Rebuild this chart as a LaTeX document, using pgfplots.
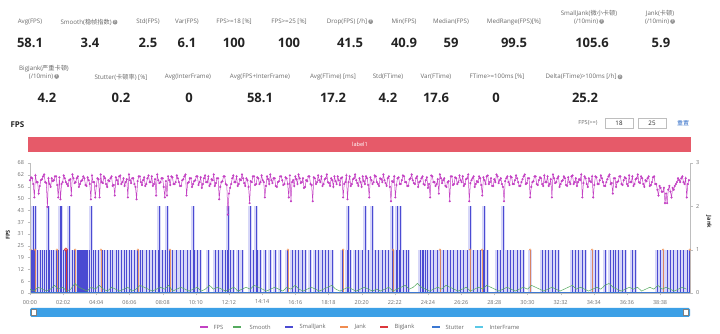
\documentclass[border=0pt]{standalone}
\usepackage{pgfplots}
\pgfplotsset{compat=1.18}
\usepackage{pgfplotstable}
\usepackage{fontspec}
\setmainfont{Open Sans}
\newfontfamily\cjk{Noto Sans CJK SC}
\definecolor{lgray}{RGB}{105,105,105}
\definecolor{vdark}{RGB}{35,35,35}
\definecolor{qgray}{RGB}{150,150,150}
\definecolor{axgray}{RGB}{190,190,190}
\definecolor{tkgray}{RGB}{110,110,110}
\definecolor{fpsc}{RGB}{195,65,195}
\definecolor{smoothc}{RGB}{85,170,95}
\definecolor{sjc}{RGB}{75,75,210}
\definecolor{sjl}{RGB}{140,140,235}
\definecolor{jankc}{RGB}{240,140,80}
\definecolor{bjc}{RGB}{220,55,60}
\definecolor{stutc}{RGB}{60,120,210}
\definecolor{ifc}{RGB}{90,200,230}
\definecolor{barred}{RGB}{230,90,105}
\definecolor{slider}{RGB}{60,160,230}
\definecolor{linkblue}{RGB}{50,110,200}
\newcommand{\qm}{\,\tikz[baseline=-0.6ex]\node[circle,fill=qgray,inner sep=0pt,minimum size=4.8pt,text=white,font=\fontsize{3.6}{4}\selectfont\bfseries]{?};}
\newcommand{\lab}[3]{\node[font=\fontsize{6.2}{7.6}\selectfont,text=lgray,align=center] at (#1,#2) {#3};}
\newcommand{\val}[3]{\node[font=\fontsize{13}{14}\selectfont\bfseries,text=vdark] at (#1,#2) {#3};}
\pgfplotsset{common/.style={scale only axis,width=660pt,height=130pt,xmin=0,xmax=2428,
  axis line style={draw=axgray},tick style={draw=axgray},
  major tick length=2.5pt,tick align=outside,
  ticklabel style={font=\fontsize{5.5}{6}\selectfont,text=tkgray},
  /pgf/number format/assume math mode=true}}
\pgfplotstableread[row sep=\\]{
t v\\ 4 1\\ 7 1\\ 11 2\\ 15 1\\ 18 2\\ 26 1\\ 37 1\\ 44 1\\ 52 1\\ 59 1\\ 66 2\\ 70 1\\ 77 1\\ 85 1\\ 96 1\\ 103 1\\ 110 2\\ 114 2\\ 121 1\\ 129 1\\ 136 1\\ 143 2\\ 155 1\\ 162 1\\ 173 1\\ 177 1\\ 180 1\\ 184 1\\ 188 1\\ 191 1\\ 195 1\\ 199 1\\ 202 1\\ 206 1\\ 210 1\\ 217 1\\ 224 2\\ 232 1\\ 239 1\\ 250 1\\
265 1\\ 272 1\\ 283 1\\ 294 1\\ 302 1\\ 316 1\\ 324 1\\ 335 1\\ 346 1\\ 353 1\\ 364 1\\ 372 1\\ 383 1\\ 394 1\\ 405 1\\ 412 1\\ 427 1\\ 438 1\\ 449 1\\ 460 1\\ 471 1\\ 475 2\\ 486 1\\ 497 1\\ 504 2\\ 511 1\\ 522 1\\ 537 1\\ 552 1\\ 563 1\\ 578 1\\ 589 1\\ 600 2\\ 603 1\\ 614 1\\
625 1\\ 655 1\\ 681 1\\ 692 1\\ 706 1\\ 717 1\\ 725 1\\ 728 2\\ 736 1\\ 747 1\\ 765 1\\ 780 1\\ 809 2\\ 820 1\\ 831 2\\ 835 1\\ 846 1\\ 865 1\\ 883 1\\ 901 1\\ 920 1\\ 945 1\\ 964 1\\ 975 1\\ 986 1\\ 1001 1\\ 1012 1\\ 1030 1\\ 1049 1\\ 1060 1\\ 1074 1\\ 1085 1\\ 1096 1\\ 1111 1\\ 1148 1\\ 1166 1\\ 1170 2\\ 1177 1\\ 1196 1\\ 1207 1\\
1221 1\\ 1232 2\\ 1244 1\\ 1258 2\\ 1269 1\\ 1280 1\\ 1295 1\\ 1306 1\\ 1317 1\\ 1332 2\\ 1335 1\\ 1347 1\\ 1350 2\\ 1358 1\\ 1361 2\\ 1372 1\\ 1383 1\\ 1391 1\\ 1435 1\\ 1442 1\\ 1446 1\\ 1453 1\\ 1461 1\\ 1472 1\\ 1483 1\\ 1497 1\\ 1508 1\\ 1519 1\\ 1534 1\\ 1545 1\\ 1556 1\\ 1571 1\\ 1582 1\\ 1593 1\\ 1608 1\\ 1619 2\\ 1630 1\\ 1644 1\\ 1656 1\\ 1667 1\\ 1670 2\\ 1681 1\\ 1718 1\\ 1729 1\\ 1740 2\\ 1755 1\\ 1766 1\\ 1777 1\\ 1792 1\\ 1803 1\\ 1814 1\\
1840 1\\ 1884 1\\ 1895 1\\ 1906 1\\ 1920 1\\ 1931 1\\ 1943 1\\ 1994 1\\ 2005 1\\ 2016 1\\ 2031 1\\ 2042 1\\ 2068 1\\ 2079 1\\ 2090 1\\ 2115 1\\ 2134 1\\ 2145 1\\ 2152 1\\ 2163 1\\ 2178 1\\ 2189 1\\ 2215 1\\ 2226 1\\ 2307 1\\ 2318 1\\ 2329 1\\ 2344 1\\ 2355 1\\ 2366 1\\ 2380 1\\ 2391 1\\ 2402 1\\ 2417 1\\ 2427 1\\
}\sjdata
\pgfplotstableread[row sep=\\]{
v\\
59\\60.5\\60\\57\\50\\61.5\\58\\58\\52\\56\\59\\59.5\\61\\62\\58\\57.5\\45\\60\\57\\55.5\\60\\58.5\\59\\61\\61\\56.5\\50\\60.5\\49\\57\\58\\61.5\\60\\58\\57\\56\\59\\59.5\\51\\62\\
60\\57.5\\58\\60\\61\\55.5\\57\\58.5\\59\\61\\60\\56.5\\56\\60.5\\59\\57\\49\\61.5\\58\\58\\50\\56\\60\\59.5\\50\\62\\58\\57.5\\61\\60\\57\\55.5\\59\\58.5\\60\\61\\56\\56.5\\51\\60.5\\
59\\57\\61\\61.5\\57\\58\\60\\56\\58\\59.5\\50\\62\\59\\57.5\\60\\60\\57\\55.5\\49\\58.5\\61\\61\\58\\56.5\\59\\60.5\\56\\57\\60\\61.5\\58\\58\\61\\56\\57\\59.5\\51\\62\\59\\57.5\\
58\\60\\60\\55.5\\50\\58.5\\51\\61\\59\\56.5\\61\\60.5\\57\\57\\58\\61.5\\60\\58\\56\\56\\59\\59.5\\61\\62\\51\\57.5\\58\\60\\60\\55.5\\57\\58.5\\59\\61\\61\\56.5\\58\\60.5\\55\\57\\
60\\61.5\\58\\58\\61\\56\\57\\59.5\\59\\62\\56\\57.5\\60\\60\\49\\55.5\\58\\58.5\\61\\61\\57\\56.5\\41\\52\\55\\57\\60\\61.5\\58\\58\\61\\56\\57\\59.5\\59\\62\\60\\57.5\\56\\60\\
59\\55.5\\47\\58.5\\58\\61\\61\\56.5\\57\\60.5\\60\\57\\58\\61.5\\59\\58\\50\\56\\61\\59.5\\57\\62\\59\\57.5\\60\\60\\56\\55.5\\58\\58.5\\61\\61\\59\\56.5\\57\\60.5\\60\\57\\50\\61.5\\
48\\58\\59\\56\\61\\59.5\\57\\62\\60\\57.5\\58\\60\\55\\55.5\\59\\58.5\\61\\61\\57\\56.5\\48\\60.5\\60\\57\\58\\61.5\\59\\58\\61\\56\\57\\59.5\\60\\62\\58\\57.5\\56\\60\\59\\55.5\\
61\\58.5\\57\\61\\59\\56.5\\60\\60.5\\50\\57\\58\\61.5\\49\\58\\61\\56\\57\\59.5\\60\\62\\59\\57.5\\56\\60\\58\\55.5\\61\\58.5\\57\\61\\60\\56.5\\50\\60.5\\59\\57\\58\\61.5\\61\\58\\
57\\56\\60\\59.5\\58\\62\\59\\57.5\\56\\60\\61\\55.5\\48\\58.5\\58\\61\\50\\56.5\\60\\60.5\\57\\57\\59\\61.5\\61\\58\\58\\56\\56\\59.5\\60\\62\\59\\57.5\\57\\60\\61\\55.5\\58\\58.5\\
60\\61\\57\\56.5\\59\\60.5\\55\\57\\50\\61.5\\61\\58\\58\\56\\57\\59.5\\52\\62\\60\\57.5\\59\\60\\56\\55.5\\58\\58.5\\48\\61\\61\\56.5\\57\\60.5\\60\\57\\58\\61.5\\59\\58\\61\\56\\
57\\59.5\\60\\62\\48\\57.5\\59\\60\\61\\55.5\\57\\58.5\\58\\61\\60\\56.5\\51\\60.5\\59\\57\\61\\61.5\\57\\58\\60\\56\\56\\59.5\\58\\62\\61\\57.5\\59\\60\\57\\55.5\\48\\58.5\\60\\61\\
58\\56.5\\61\\60.5\\57\\57\\59\\61.5\\60\\58\\56\\56\\58\\59.5\\61\\62\\57\\57.5\\60\\60\\50\\55.5\\58\\58.5\\61\\61\\57\\56.5\\59\\60.5\\60\\57\\56\\61.5\\58\\58\\61\\56\\57\\59.5\\
50\\62\\60\\57.5\\58\\60\\61\\55.5\\57\\58.5\\59\\61\\60\\56.5\\56\\60.5\\58\\57\\61\\61.5\\57\\58\\60\\56\\58\\59.5\\59\\62\\50\\57.5\\61\\60\\57\\55.5\\60\\58.5\\58\\61\\50\\56.5\\
61\\60.5\\57\\57\\59\\61.5\\60\\58\\56\\56\\58\\59.5\\61\\62\\57\\57.5\\52\\60\\60\\55.5\\58\\58.5\\61\\61\\57\\56.5\\59\\60.5\\60\\57\\56\\61.5\\58\\58\\61\\56\\57\\59.5\\60\\62\\
58\\57.5\\61\\60\\57\\55.5\\59\\58.5\\60\\61\\56\\56.5\\58\\60.5\\61\\57\\57\\54\\51\\56\\55\\53\\53\\55\\47\\52\\47\\54\\56\\53\\50\\55\\54\\56\\57\\58\\60\\59\\58\\60\\
61\\58\\57\\60\\50\\57\\59\\
}\fpsdata
\pgfplotstableread[row sep=\\]{
v\\
2\\1\\3\\2\\1\\2\\4\\2\\3\\1\\2\\5\\3\\2\\1\\3\\2\\4\\2\\1\\3\\2\\1\\2\\3\\1\\2\\4\\3\\2\\1\\2\\3\\2\\4\\1\\2\\3\\2\\1\\
2\\3\\1\\2\\4\\2\\3\\2\\1\\2\\3\\1\\2\\3\\2\\4\\3\\2\\1\\2\\3\\2\\1\\3\\2\\4\\2\\1\\2\\3\\2\\1\\2\\3\\4\\2\\1\\2\\3\\2\\
1\\2\\3\\2\\1\\2\\1\\2\\3\\1\\2\\3\\4\\2\\3\\5\\3\\2\\1\\2\\3\\2\\4\\3\\2\\1\\2\\3\\1\\2\\3\\2\\4\\3\\2\\1\\2\\3\\2\\1\\
2\\3\\2\\4\\3\\2\\1\\2\\3\\2\\1\\2\\3\\4\\2\\3\\2\\1\\2\\3\\2\\4\\5\\3\\2\\1\\2\\3\\2\\3\\1\\2\\3\\2\\4\\2\\3\\2\\1\\2\\
3\\2\\
}\smoothdata
\begin{document}
\begin{tikzpicture}
% ---- jank axis (right)
\begin{axis}[common,name=main,ymin=0,ymax=3,axis x line=none,axis y line*=right,ytick={0,1,2,3}]
\addplot[ycomb,draw=sjl,line width=3.4pt,opacity=0.35] table[x=t,y=v]{\sjdata};
\addplot[ycomb,draw=sjc,line width=0.55pt] table[x=t,y=v]{\sjdata};
\addplot[ycomb,draw=jankc,line width=0.35pt,opacity=0.85,mark=o,mark size=0.9pt,mark options={draw=jankc,fill=white,opacity=1}] coordinates {
(2,1)(18,1)(99,1)(166,1)(261,1)(397,1)(515,1)(949,1)(1152,1)(1335,1)(1508,1)(1619,1)(1663,1)(1840,1)(2068,1)(2329,1)(2427,1)};
\addplot[ycomb,draw=bjc,line width=0.5pt,mark=*,mark size=1.7pt,mark options={fill=bjc,fill opacity=0.6,draw=bjc}] coordinates {(132,1)};
\addplot[stutc,line width=0.6pt] coordinates {(0,0.02)(2428,0.02)};
\addplot[ifc,line width=0.5pt] coordinates {(0,0)(2428,0)};
\end{axis}
% ---- FPS axis (left)
\begin{axis}[common,at={(main.origin)},anchor=origin,ymin=0,ymax=68,axis x line*=bottom,axis y line*=left,
  ytick={0,6.18,12.36,18.55,24.73,30.91,37.09,43.27,49.45,55.64,61.82,68},
  yticklabels={0,6,12,19,25,31,37,43,50,56,62,68},
  xtick={0,122,244,366,488,610,732,854,976,1098,1220,1342,1464,1586,1708,1830,1952,2074,2196,2318},
  xticklabels={00:00,02:02,04:04,06:06,08:08,10:10,12:12,14:14,16:16,18:18,20:20,22:22,24:24,26:26,28:28,30:30,32:32,34:34,36:36,38:38},
  xticklabel style={yshift=-1pt}]
\addplot[smoothc,line width=0.5pt] table[x expr=\coordindex*15,y=v]{\smoothdata};
\addplot[fpsc,line width=0.5pt,mark=*,mark size=0.8pt,mark options={fill=fpsc,draw=fpsc}] table[x expr=\coordindex*4,y=v]{\fpsdata};
\end{axis}
\begin{scope}[x=1pt,y=1pt,shift={(main.origin)},xshift=-30pt,yshift=-41pt]
\useasboundingbox (0,0) rectangle (720,334);
% ---- stats row 1
\lab{30}{312}{Avg(FPS)}\val{30}{291}{58.1}
\lab{89}{312}{Smooth({\cjk 稳帧指数})\qm}\val{90}{291}{3.4}
\lab{148}{312}{Std(FPS)}\val{148}{291}{2.5}
\lab{187}{312}{Var(FPS)}\val{187}{291}{6.1}
\lab{234}{312}{FPS>=18 [\%]}\val{234}{291}{100}
\lab{289}{312}{FPS>=25 [\%]}\val{289}{291}{100}
\lab{350}{312}{Drop(FPS) [/h]\qm}\val{350}{291}{41.5}
\lab{404}{312}{Min(FPS)}\val{404}{291}{40.9}
\lab{451}{312}{Median(FPS)}\val{451}{291}{59}
\lab{514}{312}{MedRange(FPS)[\%]}\val{514}{291}{99.5}
\lab{589}{316.5}{SmallJank({\cjk 微小卡顿})\\(/10min)\qm}\val{592}{291}{105.6}
\lab{660}{316.5}{Jank({\cjk 卡顿})\\(/10min)\qm}\val{661}{291}{5.9}
% ---- stats row 2
\lab{44}{261.5}{BigJank({\cjk 严重卡顿})\\(/10min)\qm}\val{47}{236}{4.2}
\lab{121}{257}{Stutter({\cjk 卡顿率}) [\%]}\val{121}{236}{0.2}
\lab{188}{257}{Avg(InterFrame)}\val{189}{236}{0}
\lab{260}{257}{Avg(FPS+InterFrame)}\val{260}{236}{58.1}
\lab{333}{257}{Avg(FTime) [ms]}\val{333}{236}{17.2}
\lab{388}{257}{Std(FTime)}\val{388}{236}{4.2}
\lab{436}{257}{Var(FTime)}\val{436}{236}{17.6}
\lab{497}{257}{FTime>=100ms [\%]}\val{496}{236}{0}
\lab{584}{257}{Delta(FTime)>100ms [/h]\qm}\val{585}{236}{25.2}
% ---- header
\node[font=\fontsize{8}{9}\selectfont\bfseries,text=vdark,anchor=west] at (7,209) {FPS};
\node[font=\fontsize{5.6}{6}\selectfont,text=lgray] at (588,211) {FPS(>=)};
\draw[axgray,line width=0.5pt] (605,206) rectangle (633,216);
\draw[axgray,line width=0.5pt] (638,206) rectangle (666,216);
\node[font=\fontsize{6.2}{7}\selectfont,text=vdark] at (619,211) {18};
\node[font=\fontsize{6.2}{7}\selectfont,text=vdark] at (652,211) {25};
\node[font=\fontsize{6}{7}\selectfont,text=linkblue] at (683,211) {\cjk 重置};
\fill[barred] (28,182) rectangle (691,197);
\node[font=\fontsize{5.6}{6}\selectfont,text=white] at (360,189.5) {label1};
\node[font=\fontsize{5.5}{6}\selectfont\bfseries,text=vdark,rotate=90] at (8,99) {FPS};
\node[font=\fontsize{5.5}{6}\selectfont\bfseries,text=vdark,rotate=-90] at (709,112) {Jank};
% ---- slider
\fill[slider,rounded corners=1.5pt] (30,17) rectangle (690,26);
\filldraw[fill=white,draw=gray,line width=0.4pt] (31.5,18.5) rectangle (36.5,24.5);
\filldraw[fill=white,draw=gray,line width=0.4pt] (683.5,18.5) rectangle (688.5,24.5);
% ---- legend
\begin{scope}[every node/.style={font=\fontsize{5.8}{6}\selectfont,text=lgray,anchor=west}]
\draw[fpsc,line width=1.6pt] (200,7)--(208,7); \node at (210,7) {FPS};
\draw[smoothc,line width=1.6pt] (233,7)--(241,7); \node at (246,7) {Smooth};
\draw[sjc,line width=1.6pt] (285,7)--(293,7); \node at (296,7) {SmallJank};
\draw[jankc,line width=1.6pt] (340,7)--(348,7); \node at (351,7) {Jank};
\draw[bjc,line width=1.6pt] (380,7)--(388,7); \node at (391,7) {BigJank};
\draw[stutc,line width=1.6pt] (432,7)--(440,7); \node at (442,7) {Stutter};
\draw[ifc,line width=1.6pt] (475,7)--(483,7); \node at (486,7) {InterFrame};
\end{scope}
\end{scope}
\end{tikzpicture}
\end{document}
